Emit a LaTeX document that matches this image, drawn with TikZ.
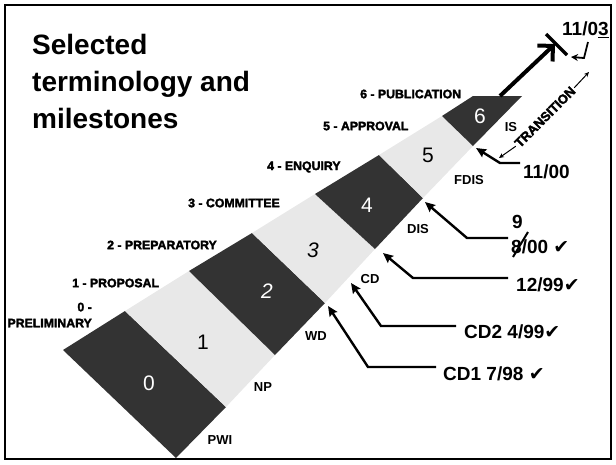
\documentclass[tikz,border=0pt]{standalone}
\usepackage{fontspec}
\setmainfont{Liberation Sans}
\newfontfamily\dejavu{DejaVu Sans}
\newfontfamily\heavy[FakeBold=2.5]{Liberation Sans Bold}
\usetikzlibrary{arrows.meta}
\definecolor{segdark}{HTML}{333333}
\definecolor{seglight}{HTML}{E8E8E8}
\newcommand{\chk}{{\dejavu\bfseries ✔}}
\begin{document}
\begin{tikzpicture}[x=1pt,y=-1pt,
  stage/.style={font=\fontsize{12.3}{15}\selectfont\heavy, inner sep=0pt, anchor=west},
  seglbl/.style={font=\fontsize{13}{15}\selectfont\bfseries, inner sep=0pt},
  segnum/.style={font=\fontsize{21}{22}\selectfont, inner sep=0pt},
  datelbl/.style={font=\fontsize{19}{22}\selectfont\bfseries, inner sep=0pt, anchor=west},
  callout/.style={line width=2.4pt, -{Stealth[length=10pt,width=9pt,inset=1.5pt]}},
  thinarrow/.style={line width=1pt, -{Stealth[length=5pt,width=4.5pt]}},
]
\useasboundingbox (0,0) rectangle (616,464);
\draw[line width=2.5pt] (5,5) rectangle (611,459);

% wedge coordinates
\coordinate (u0) at (63,350);
\coordinate (u1) at (125,311);
\coordinate (u2) at (189,271);
\coordinate (u3) at (252,233);
\coordinate (u4) at (315,194);
\coordinate (u5) at (379,155);
\coordinate (u6) at (442,116);
\coordinate (u7) at (473,96);
\coordinate (l0) at (176,458);
\coordinate (l1) at (226,407);
\coordinate (l2) at (275,355);
\coordinate (l3) at (325,303);
\coordinate (l4) at (375,249);
\coordinate (l5) at (423,198);
\coordinate (l6) at (473,146);
\coordinate (l7) at (522,96);

\fill[segdark]  (u0) -- (u1) -- (l1) -- (l0) -- cycle;
\fill[seglight] (u1) -- (u2) -- (l2) -- (l1) -- cycle;
\fill[segdark]  (u2) -- (u3) -- (l3) -- (l2) -- cycle;
\fill[seglight] (u3) -- (u4) -- (l4) -- (l3) -- cycle;
\fill[segdark]  (u4) -- (u5) -- (l5) -- (l4) -- cycle;
\fill[seglight] (u5) -- (u6) -- (l6) -- (l5) -- cycle;
\fill[segdark]  (u6) -- (u7) -- (l7) -- (l6) -- cycle;

% segment numbers
\node[segnum, white] (n0) at (149,383) {0};
\node[segnum] (n1) at (203,342) {1};
\node[segnum, white] (n2) at (267,291) {\itshape 2};
\node[segnum] (n3) at (313,250) {\itshape 3};
\node[segnum, white] (n4) at (367,205) {4};
\node[segnum] (n5) at (428,155) {5};
\node[segnum, white] (n6) at (480,116) {6};

% title
\node[anchor=west, align=left, inner sep=0pt, font=\fontsize{28}{37}\selectfont\bfseries] (title) at (32,81) {Selected\\terminology and\\milestones};

% stage labels
\node[stage] (s6) at (360,94) {6 - PUBLICATION};
\node[stage] (s5) at (323,126) {5 - APPROVAL};
\node[stage] (s4) at (267,167) {4 - ENQUIRY};
\node[stage] (s3) at (188,203) {3 - COMMITTEE};
\node[stage] (s2) at (107,245) {2 - PREPARATORY};
\node[stage] (s1) at (72,283) {1 - PROPOSAL};
\node[stage, anchor=east, align=right, font=\fontsize{12.3}{16}\selectfont\heavy] (s0) at (92,315) {0 -\\PRELIMINARY};

% segment end labels
\node[seglbl] (pwi) at (220,440) {PWI};
\node[seglbl] (np) at (263,387) {NP};
\node[seglbl] (wd) at (316,336) {WD};
\node[seglbl] (cd) at (370,279) {CD};
\node[seglbl] (dis) at (418,229) {DIS};
\node[seglbl] (fdis) at (469,180) {FDIS};
\node[seglbl] (is) at (511,127) {IS};

% dates
\node[datelbl] (cd1) at (443,374) {CD1 7/98 \chk};
\node[datelbl] (cd2) at (464,332) {CD2 4/99\chk};
\node[datelbl] (d1299) at (516,285) {12/99\chk};
\node[datelbl] (d800) at (511,247) {8/00 \chk};
\node[datelbl] (nine) at (512,222) {9};
\node[datelbl] (d1100) at (523,172) {11/00};
\node[datelbl] (d1103) at (562,30) {11/0\underline{3}};
\draw[line width=2pt] (513,257) -- (528,232);

% callout connectors
\coordinate (t1) at (328,306); \coordinate (e1) at (368,367); \coordinate (s1s) at (436,367);
\coordinate (t2) at (351,283); \coordinate (e2) at (381,326); \coordinate (s2s) at (456,326);
\coordinate (t3) at (383,253); \coordinate (e3) at (413,278); \coordinate (s3s) at (508,278);
\coordinate (t4) at (425,202); \coordinate (e4) at (467,238); \coordinate (s4s) at (508,238);
\coordinate (t5) at (476,148); \coordinate (e5) at (500,163); \coordinate (s5s) at (520,163);
\draw[callout] (s1s) -- (e1) -- (t1);
\draw[callout] (s2s) -- (e2) -- (t2);
\draw[callout] (s3s) -- (e3) -- (t3);
\draw[callout] (s4s) -- (e4) -- (t4);
\draw[callout] (s5s) -- (e5) -- (t5);

% big arrow to 11/03
\coordinate (bigs) at (500,96);
\coordinate (bigt) at (555,44);
\draw[line width=4pt, -{Straight Barb[length=11pt,width=22pt,line width=4pt]}] (bigs) -- (bigt);
\coordinate (bar1) at (546,34);
\coordinate (bar2) at (567,55);
\draw[line width=3.5pt] (bar1) -- (bar2);
\coordinate (sm1) at (588,42);
\coordinate (sm2) at (584,58);
\coordinate (sm3) at (571,57);
\draw[line width=1.8pt, -{Stealth[length=7pt,width=7pt]}] (sm1) -- (sm2) -- (sm3);

% transition
\node[rotate=45, inner sep=0pt, font=\fontsize{13}{15}\selectfont\heavy] (trans) at (545,117) {TRANSITION};
\coordinate (tr1) at (499,158);
\coordinate (tr2) at (589,72);
\draw[thinarrow] ([shift={(-1,1)}]trans.west) -- (tr1);
\draw[thinarrow] ([shift={(1,-1)}]trans.east) -- (tr2);
\end{tikzpicture}
\end{document}
